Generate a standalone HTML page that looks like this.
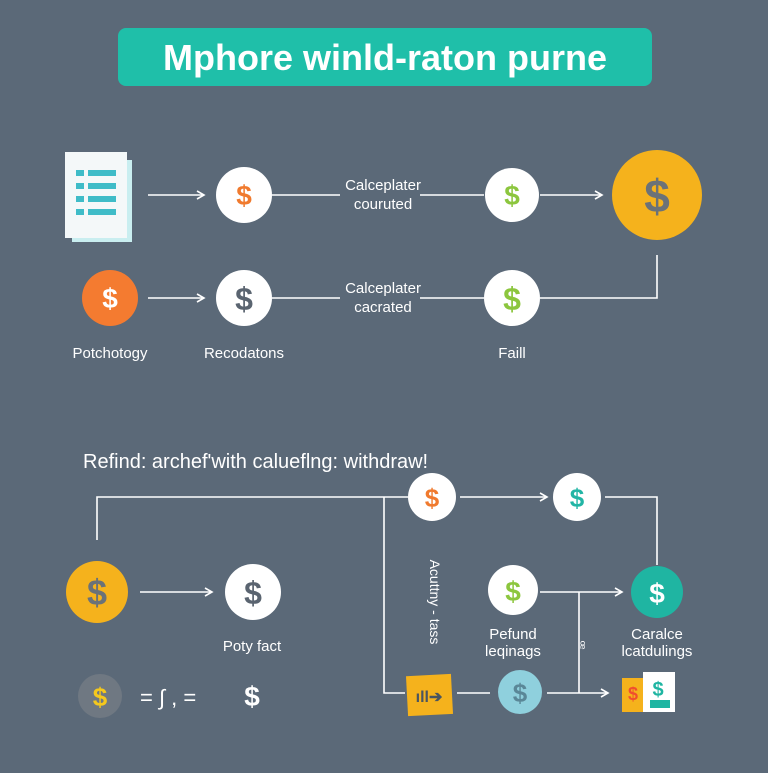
<!DOCTYPE html>
<html><head><style>
body{margin:0;width:768px;height:768px;background:#5b6978;font-family:"Liberation Sans",sans-serif;overflow:hidden}
</style></head><body>
<svg width="768" height="768" viewBox="0 0 768 768" xmlns="http://www.w3.org/2000/svg" font-family="Liberation Sans, sans-serif">
<defs><marker id="a" markerWidth="10" markerHeight="10" refX="8" refY="5" orient="auto" markerUnits="userSpaceOnUse"><path d="M1,1 L8,5 L1,9" fill="none" stroke="#fff" stroke-width="1.6"/></marker></defs>
<rect width="768" height="768" fill="#5b6978"/>
<rect x="118" y="28" width="534" height="58" rx="8" fill="#1fbfa9"/>
<text x="385" y="70" text-anchor="middle" font-size="36" font-weight="bold" fill="#fff">Mphore winld-raton purne</text>
<g stroke="#fff" stroke-width="1.6" fill="none">
<line x1="148" y1="195" x2="204" y2="195" marker-end="url(#a)"/>
<line x1="272" y1="195" x2="340" y2="195"/><line x1="420" y1="195" x2="484" y2="195"/>
<line x1="540" y1="195" x2="602" y2="195" marker-end="url(#a)"/>
<line x1="148" y1="298" x2="204" y2="298" marker-end="url(#a)"/>
<line x1="272" y1="298" x2="340" y2="298"/><line x1="420" y1="298" x2="484" y2="298"/>
<polyline points="540,298 657,298 657,255"/>
<polyline points="97,540 97,497 408,497"/>
<line x1="460" y1="497" x2="547" y2="497" marker-end="url(#a)"/>
<polyline points="605,497 657,497 657,565"/>
<polyline points="384,497 384,693 405,693"/>
<line x1="140" y1="592" x2="212" y2="592" marker-end="url(#a)"/>
<line x1="540" y1="592" x2="622" y2="592" marker-end="url(#a)"/>
<line x1="579" y1="592" x2="579" y2="693"/>
<line x1="457" y1="693" x2="490" y2="693"/>
<line x1="547" y1="693" x2="608" y2="693" marker-end="url(#a)"/>
</g>
<rect x="72" y="160" width="60" height="82" fill="#c9eef0"/>
<rect x="65" y="152" width="62" height="86" fill="#f4f8f9"/>
<g fill="#3fbcc8"><rect x="76" y="170" width="8" height="6"/><rect x="88" y="170" width="28" height="6"/><rect x="76" y="183" width="8" height="6"/><rect x="88" y="183" width="28" height="6"/><rect x="76" y="196" width="8" height="6"/><rect x="88" y="196" width="28" height="6"/><rect x="76" y="209" width="8" height="6"/><rect x="88" y="209" width="28" height="6"/></g>
<g font-weight="bold" text-anchor="middle">
<circle cx="244" cy="195" r="28" fill="#fff"/><text x="244" y="205" font-size="28" fill="#f07a2e">$</text>
<circle cx="512" cy="195" r="27" fill="#fff"/><text x="512" y="205" font-size="28" fill="#8cc63e">$</text>
<circle cx="657" cy="195" r="45" fill="#f5b21c"/><text x="657" y="212" font-size="46" fill="#6b7278">$</text>
<circle cx="110" cy="298" r="28" fill="#f47b30"/><text x="110" y="308" font-size="28" fill="#fff">$</text>
<circle cx="244" cy="298" r="28" fill="#fff"/><text x="244" y="310" font-size="32" fill="#5a6470">$</text>
<circle cx="512" cy="298" r="28" fill="#fff"/><text x="512" y="310" font-size="32" fill="#8cc63e">$</text>
<circle cx="432" cy="497" r="24" fill="#fff"/><text x="432" y="507" font-size="26" fill="#f07a2e">$</text>
<circle cx="577" cy="497" r="24" fill="#fff"/><text x="577" y="507" font-size="26" fill="#22b5a5">$</text>
<circle cx="97" cy="592" r="31" fill="#f5b21c"/><text x="97" y="605" font-size="36" fill="#6b7278">$</text>
<circle cx="253" cy="592" r="28" fill="#fff"/><text x="253" y="604" font-size="32" fill="#5a6470">$</text>
<circle cx="513" cy="590" r="25" fill="#fff"/><text x="513" y="601" font-size="28" fill="#8cc63e">$</text>
<circle cx="657" cy="592" r="26" fill="#1fb5a2"/><text x="657" y="603" font-size="28" fill="#fff">$</text>
<circle cx="100" cy="696" r="22" fill="#6f7882"/><text x="100" y="706" font-size="26" fill="#f5c81c">$</text>
<text x="252" y="706" font-size="28" fill="#fff">$</text>
<circle cx="520" cy="692" r="22" fill="#8fd0dd"/><text x="520" y="702" font-size="26" fill="#5a8797">$</text>
</g>
<text x="140" y="705" font-size="22" fill="#fff">= ∫ ,  =</text>
<rect x="407" y="675" width="45" height="40" fill="#f5b21c" transform="rotate(-3 430 695)"/>
<text x="429" y="702" font-size="16" font-weight="bold" text-anchor="middle" fill="#4a5560">ıll➔</text>
<rect x="622" y="678" width="22" height="34" fill="#f5b21c"/>
<rect x="643" y="672" width="32" height="40" fill="#fff"/>
<rect x="650" y="700" width="20" height="8" fill="#1fb5a2"/>
<text x="658" y="696" font-size="20" font-weight="bold" text-anchor="middle" fill="#1fb5a2">$</text>
<text x="633" y="700" font-size="18" font-weight="bold" text-anchor="middle" fill="#f04e2e">$</text>
<g fill="#fff" font-size="15" text-anchor="middle">
<text x="383" y="190">Calceplater</text><text x="383" y="209">couruted</text>
<text x="383" y="293">Calceplater</text><text x="383" y="312">cacrated</text>
<text x="110" y="358">Potchotogy</text><text x="244" y="358">Recodatons</text><text x="512" y="358">Faill</text>
<text x="252" y="651">Poty fact</text>
<text x="513" y="639">Pefund</text><text x="513" y="656">leqinags</text>
<text x="657" y="639">Caralce</text><text x="657" y="656">lcatdulings</text>
<text transform="translate(430,602) rotate(90)" font-size="14">Acuttny - tass</text>
<text transform="translate(576,645) rotate(90)" font-size="14">ꟹ</text>
</g>
<text x="83" y="468" font-size="20" fill="#fff">Refind: archef'with calueflng: withdraw!</text>
</svg>
</body></html>
